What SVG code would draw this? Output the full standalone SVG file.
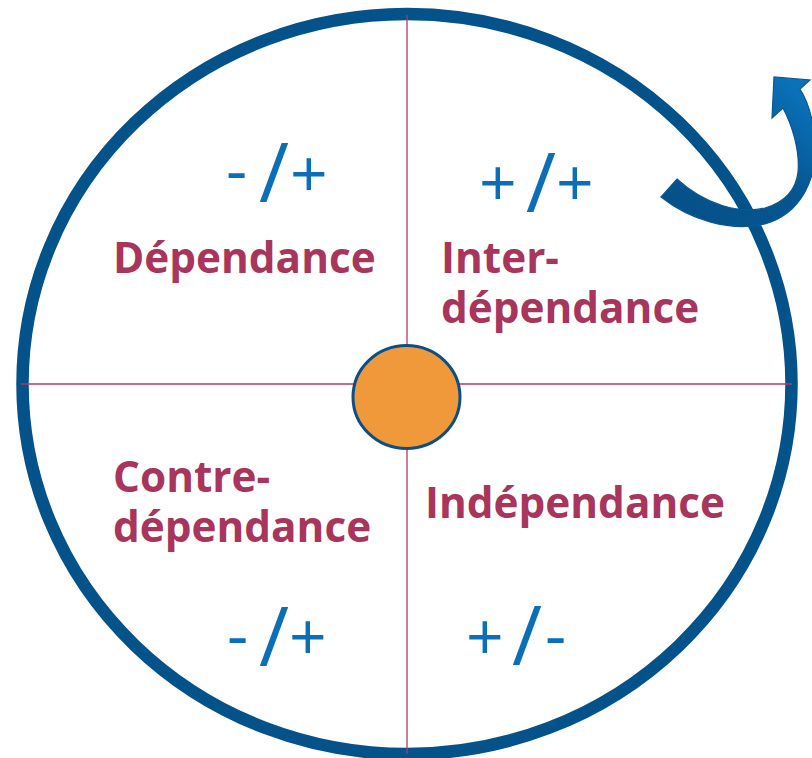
<svg xmlns="http://www.w3.org/2000/svg" width="812" height="758" viewBox="0 0 812 758">
<defs>
<linearGradient id="arrowGrad" gradientUnits="userSpaceOnUse" x1="680" y1="210" x2="800" y2="90">
<stop offset="0" stop-color="#05528a"/>
<stop offset="0.55" stop-color="#05558f"/>
<stop offset="1" stop-color="#0a72ba"/>
</linearGradient>
<style>
.ring{fill:none;stroke:#04528a;stroke-width:12.5}
.axis{stroke:#b03a62;stroke-width:1.3;fill:none}
.label{font-family:"Open Sans","Noto Sans",sans-serif;font-weight:700;font-size:42.3px;fill:#a8355b}
.sign{font-family:"Open Sans","Noto Sans",sans-serif;font-weight:400;font-size:66px;fill:#0b6fb8}
.slash{font-size:82px}
.hub{fill:#f0993b;stroke:#0b4f85;stroke-width:3}
.arrow{fill:url(#arrowGrad);stroke:#0a5893;stroke-width:1.2}
</style>
</defs>
<g id="ring">
<ellipse class="ring" cx="407" cy="384" rx="384.5" ry="370"/>
</g>
<g id="connectors">
<line class="axis" x1="407" y1="15" x2="407" y2="754"/>
<line class="axis" x1="21" y1="384" x2="792" y2="384"/>
</g>
<g id="cycle-arrow">
<path class="arrow" d="M661,197 C690,220 730,232 765,224 C800,214 818,180 815,140 C813,118 807,100 800,89 L810,80 L774,77 L772,118 L783,108 C792,125 800,150 798,172 C796,190 785,202 765,208 C740,214 705,205 677,179 Z"/>
</g>
<g id="hub">
<ellipse class="hub" cx="406.5" cy="397" rx="53.5" ry="51.5"/>
</g>
<g id="dependance">
<text class="sign"><tspan x="226" y="193">-</tspan><tspan x="246" y="192"> </tspan><tspan class="slash" x="259" y="202">/</tspan><tspan x="290" y="197">+</tspan></text>
<text class="label" x="113" y="273">Dépendance</text>
</g>
<g id="interdependance">
<text class="sign"><tspan x="479" y="206">+</tspan><tspan x="510" y="206"> </tspan><tspan class="slash" x="526" y="212">/</tspan><tspan x="556" y="206">+</tspan></text>
<text class="label"><tspan x="441" y="273">Inter-</tspan><tspan x="441" y="323">dépendance</tspan></text>
</g>
<g id="contredependance">
<text class="label"><tspan x="113" y="492">Contre-</tspan><tspan x="113" y="542">dépendance</tspan></text>
<text class="sign"><tspan x="227" y="658">-</tspan><tspan x="246" y="658"> </tspan><tspan class="slash" x="259" y="666">/</tspan><tspan x="289" y="660">+</tspan></text>
</g>
<g id="independance">
<text class="label" x="425" y="518">Indépendance</text>
<text class="sign"><tspan x="466" y="660">+</tspan><tspan x="497" y="660"> </tspan><tspan class="slash" x="512" y="665">/</tspan><tspan x="545" y="658">-</tspan></text>
</g>
</svg>
